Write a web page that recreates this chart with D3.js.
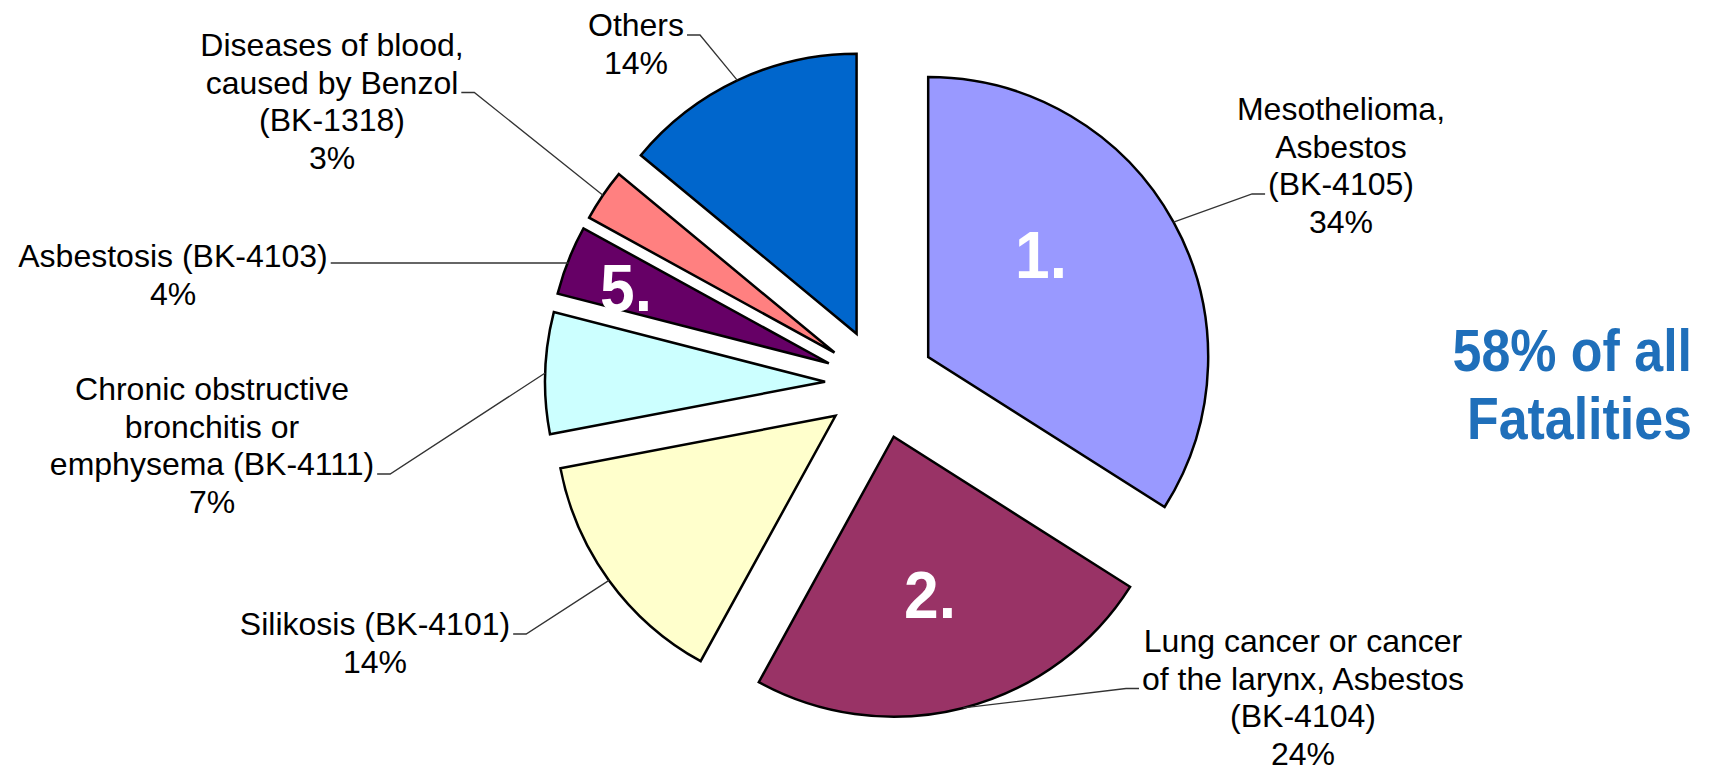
<!DOCTYPE html>
<html>
<head>
<meta charset="utf-8">
<script src="https://cdn.jsdelivr.net/npm/d3@7"></script>
<style>
  body { margin: 0; background: #fff; }
  text { font-family: "Liberation Sans", Arial, sans-serif; }
</style>
</head>
<body>
<div id="chart"></div>
<script>
// data, clockwise from 12 o'clock
const categories = [
    'Mesothelioma, Asbestos (BK-4105)',
    'Lung cancer or cancer of the larynx, Asbestos (BK-4104)',
    'Silikosis (BK-4101)',
    'Chronic obstructive bronchitis or emphysema (BK-4111)',
    'Asbestosis (BK-4103)',
    'Diseases of blood, caused by Benzol (BK-1318)',
    'Others'
];
const labelLines = [
    ['Mesothelioma,', 'Asbestos', '(BK-4105)'],
    ['Lung cancer or cancer', 'of the larynx, Asbestos', '(BK-4104)'],
    ['Silikosis (BK-4101)'],
    ['Chronic obstructive', 'bronchitis or', 'emphysema (BK-4111)'],
    ['Asbestosis (BK-4103)'],
    ['Diseases of blood,', 'caused by Benzol', '(BK-1318)'],
    ['Others']
];
const shares = [34, 24, 14, 7, 4, 3, 14];
const ranks = ['1.', '2.', '', '', '5.', '', ''];
const note = ['58% of all', 'Fatalities'];

const colors = ['#9999ff', '#993366', '#ffffcc', '#ccffff', '#660066', '#ff8080', '#0066cc'];

// where the label boxes sit: centre x, first baseline, line + side the leader hangs on
const labelLayout = [
    {x: 1341, y: 120, line: 2, side: 'left'},
    {x: 1303, y: 652, line: 1, side: 'left'},
    {x: 375, y: 635, line: 0, side: 'right'},
    {x: 212, y: 400, line: 2, side: 'right'},
    {x: 173, y: 267, line: 0, side: 'right', flat: true, lift: 4},
    {x: 332, y: 56, line: 1, side: 'right'},
    {x: 636, y: 36, line: 0, side: 'right'}
];
const rankPos = [[1041, 278], [930, 618], null, null, [626, 311], null, null];

const width = 1709,
    height = 770,
    cx = 880,
    cy = 383.5,
    radius = 280,
    explode = 55,
    lineH = 37.5;

const svg = d3.select('#chart').append('svg')
    .attr('width', width)
    .attr('height', height);

const pie = d3.pie().sort(null).value(d => d)(shares);
const arc = d3.arc().innerRadius(0).outerRadius(radius);
const mid = d => (d.startAngle + d.endAngle) / 2;
const offset = (d, r) => [r * Math.sin(mid(d)), -r * Math.cos(mid(d))];

const wrap = svg.append('g')
    .attr('transform', 'translate(' + cx + ',' + cy + ')');

wrap.selectAll('.slice')
    .data(pie)
    .enter()
    .append('path')
    .attr('class', 'slice')
    .attr('transform', d => 'translate(' + offset(d, explode) + ')')
    .attr('d', arc)
    .attr('fill', (d, i) => colors[i])
    .attr('stroke', '#000')
    .attr('stroke-width', 2.5);

// labels
const labels = svg.selectAll('.label')
    .data(pie)
    .enter()
    .append('text')
    .attr('class', 'label')
    .attr('text-anchor', 'middle')
    .attr('font-size', 32)
    .attr('fill', '#000');

labels.each(function (d, i) {
    const lay = labelLayout[i];
    const lines = labelLines[i].concat([shares[i] + '%']);
    d3.select(this).selectAll('tspan')
        .data(lines)
        .enter()
        .append('tspan')
        .attr('x', lay.x)
        .attr('y', (l, j) => lay.y + j * lineH)
        .text(l => l);
});

// leader lines from the label edge to the slice rim
labels.each(function (d, i) {
    const lay = labelLayout[i];
    const tspan = d3.select(this).selectAll('tspan').nodes()[lay.line];
    const w = tspan.getComputedTextLength();
    const y = lay.y + lay.line * lineH - (lay.lift || 1);
    const dir = lay.side === 'left' ? -1 : 1;
    const x0 = lay.x + dir * (w / 2 + 3);
    const rim = offset(d, explode + radius);
    const end = [cx + rim[0], lay.flat ? y : cy + rim[1]];
    svg.append('polyline')
        .attr('points', [[x0, y], [x0 + dir * 13, y], end].join(' '))
        .attr('fill', 'none')
        .attr('stroke', '#333')
        .attr('stroke-width', 1.3);
});

// rank numbers inside the slices
svg.selectAll('.rank')
    .data(pie.filter((d, i) => ranks[i]))
    .enter()
    .append('text')
    .attr('class', 'rank')
    .attr('transform', d => 'translate(' + rankPos[d.index] + ') scale(0.93,1)')
    .attr('text-anchor', 'middle')
    .attr('font-size', 67)
    .attr('font-weight', 'bold')
    .attr('fill', '#fff')
    .text(d => ranks[d.index]);

svg.append('text')
    .attr('transform', 'translate(1692,0) scale(0.88,1)')
    .attr('text-anchor', 'end')
    .attr('font-size', 59)
    .attr('font-weight', 'bold')
    .attr('fill', '#1f6fba')
    .selectAll('tspan')
    .data(note)
    .enter()
    .append('tspan')
    .attr('x', 0)
    .attr('y', (t, j) => 371 + j * 68)
    .text(t => t);
</script>
</body>
</html>
